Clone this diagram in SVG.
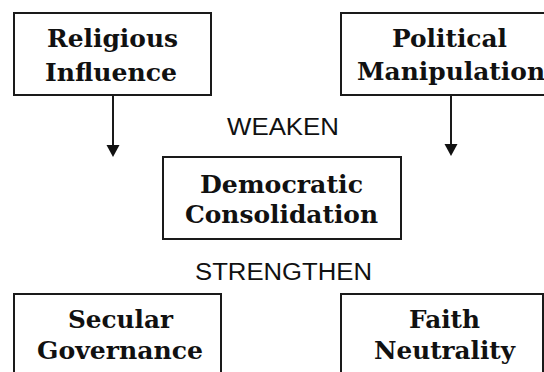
<svg xmlns="http://www.w3.org/2000/svg" width="544" height="372" viewBox="0 0 544 372">
<style>
.box{fill:#fff;stroke:#1a1a1a;stroke-width:2}
.t{font-family:"DejaVu Serif","Liberation Serif",serif;font-weight:bold;font-size:24px;fill:#111;text-anchor:middle}
.lbl{font-family:"Liberation Sans",Arial,sans-serif;font-size:23px;fill:#111;text-anchor:middle}
.conn{stroke:#1a1a1a;stroke-width:2;fill:none}
.head{fill:#111}
</style>
<rect width="544" height="372" fill="#fff"/>
<g id="connectors">
<line class="conn" x1="113" y1="95" x2="113" y2="145"/>
<path class="head" d="M106.5,145 L119.5,145 L113,157 Z"/>
<line class="conn" x1="451" y1="95" x2="451" y2="144"/>
<path class="head" d="M444.5,144 L457.5,144 L451,156 Z"/>
</g>
<g id="religious-influence">
<rect class="box" x="14" y="13" width="197" height="82"/>
<text class="t" x="112.5" y="47" textLength="131" lengthAdjust="spacingAndGlyphs">Religious</text>
<text class="t" x="111" y="80.5" textLength="132" lengthAdjust="spacingAndGlyphs">Influence</text>
</g>
<g id="political-manipulation">
<rect class="box" x="341" y="13" width="218" height="82"/>
<text class="t" x="449.5" y="47" textLength="115" lengthAdjust="spacingAndGlyphs">Political</text>
<text class="t" x="451" y="80" textLength="188" lengthAdjust="spacingAndGlyphs">Manipulation</text>
</g>
<g id="weaken-label">
<text class="lbl" x="283" y="135" textLength="112" lengthAdjust="spacingAndGlyphs">WEAKEN</text>
</g>
<g id="democratic-consolidation">
<rect class="box" x="163" y="157" width="238" height="82"/>
<text class="t" x="281.5" y="193" textLength="163" lengthAdjust="spacingAndGlyphs">Democratic</text>
<text class="t" x="281.5" y="223" textLength="193" lengthAdjust="spacingAndGlyphs">Consolidation</text>
</g>
<g id="strengthen-label">
<text class="lbl" x="283.5" y="280" textLength="177" lengthAdjust="spacingAndGlyphs">STRENGTHEN</text>
</g>
<g id="secular-governance">
<rect class="box" x="14" y="294" width="207" height="90"/>
<text class="t" x="120.5" y="328" textLength="105" lengthAdjust="spacingAndGlyphs">Secular</text>
<text class="t" x="120" y="359" textLength="166" lengthAdjust="spacingAndGlyphs">Governance</text>
</g>
<g id="faith-neutrality">
<rect class="box" x="341" y="294" width="202" height="90"/>
<text class="t" x="444.5" y="328" textLength="71" lengthAdjust="spacingAndGlyphs">Faith</text>
<text class="t" x="444.5" y="359" textLength="141" lengthAdjust="spacingAndGlyphs">Neutrality</text>
</g>
</svg>
